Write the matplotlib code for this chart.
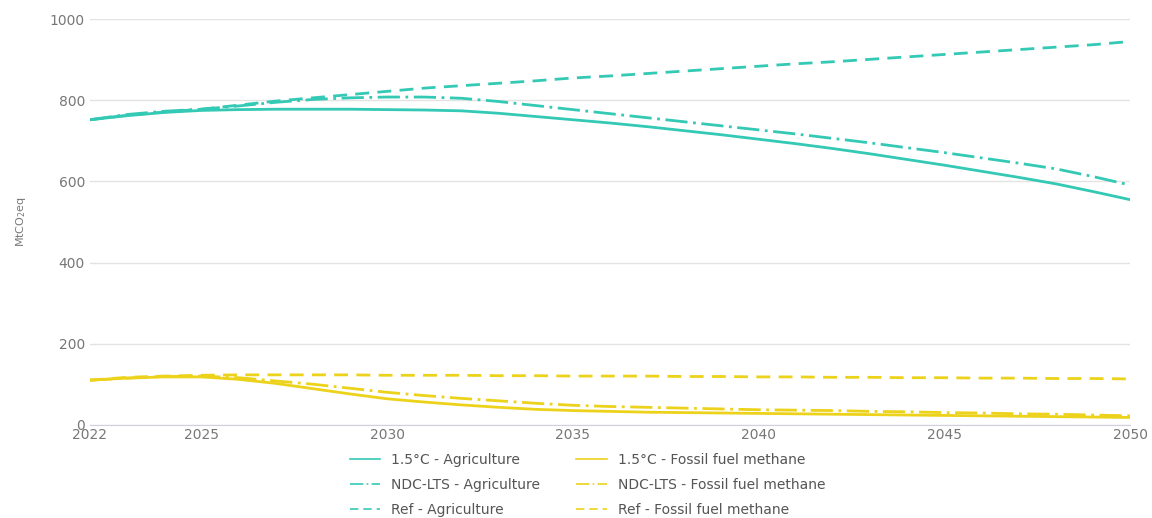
import matplotlib
matplotlib.use("Agg")
import matplotlib.pyplot as plt

years = list(range(2022, 2051))

agri_15 = [752, 762, 770, 775, 777, 778, 778, 778, 777, 776,
           774, 768, 760, 752, 744, 735, 725, 715, 704, 693,
           681, 668, 654, 640, 625, 610, 594, 575, 555]
agri_ndc = [752, 765, 773, 778, 786, 795, 802, 806, 808, 808,
            805, 797, 787, 777, 767, 757, 747, 737, 727, 717,
            706, 695, 683, 671, 658, 645, 631, 612, 591]
agri_ref = [752, 763, 771, 778, 788, 798, 806, 814, 822, 830,
            836, 842, 848, 855, 860, 866, 872, 878, 884, 890,
            895, 901, 907, 913, 919, 925, 931, 937, 945]

ff_15 = [110, 115, 118, 118, 112, 102, 89, 76, 64, 56,
         49, 43, 38, 35, 33, 31, 30, 29, 28, 27,
         26, 25, 24, 23, 22, 21, 20, 19, 18]
ff_ndc = [110, 115, 119, 120, 116, 108, 100, 90, 80, 72,
          65, 59, 53, 48, 45, 43, 41, 39, 37, 36,
          35, 33, 32, 30, 29, 27, 26, 24, 22]
ff_ref = [110, 117, 120, 122, 123, 123, 123, 123, 122, 122,
          122, 121, 121, 120, 120, 120, 119, 119, 118, 118,
          117, 117, 116, 116, 115, 115, 114, 114, 113]

xticks = [2022, 2025, 2030, 2035, 2040, 2045, 2050]
yticks = [0, 200, 400, 600, 800, 1000]

c_agri = "#33c9b5"
c_ff = "#ecd21a"
txt = "#777777"

fig = plt.figure(figsize=(11.52, 5.18), dpi=100)
ax = fig.add_axes([0.078, 0.18, 0.903, 0.783])

l1, = ax.plot(years, agri_15, color=c_agri, lw=2.0, ls="-", label="1.5°C - Agriculture")
l2, = ax.plot(years, agri_ndc, color=c_agri, lw=2.0, ls=(0, (8, 2, 1, 2)), label="NDC-LTS - Agriculture")
l3, = ax.plot(years, agri_ref, color=c_agri, lw=2.0, ls=(0, (5, 3)), label="Ref - Agriculture")
l4, = ax.plot(years, ff_15, color=c_ff, lw=2.0, ls="-", label="1.5°C - Fossil fuel methane")
l5, = ax.plot(years, ff_ndc, color=c_ff, lw=2.0, ls=(0, (8, 2, 1, 2)), label="NDC-LTS - Fossil fuel methane")
l6, = ax.plot(years, ff_ref, color=c_ff, lw=2.0, ls=(0, (5, 3)), label="Ref - Fossil fuel methane")

ax.set_xlim(2022, 2050)
ax.set_ylim(0, 1000)
ax.set_xticks(xticks)
ax.set_yticks(yticks)
ax.grid(axis="y", color="#e3e3e3", lw=1)
ax.set_axisbelow(True)
for s in ["top", "right", "left"]:
    ax.spines[s].set_visible(False)
ax.spines["bottom"].set_color("#d0d0e0")
ax.tick_params(axis="both", length=0, colors=txt, labelsize=10)
ax.tick_params(axis="x", pad=2)
ax.set_ylabel("MtCO$_2$eq", color=txt, fontsize=8, labelpad=16)

leg = fig.legend(handles=[l1, l2, l3, l4, l5, l6], loc="upper center",
                 bbox_to_anchor=(0.51, 0.15), ncol=2, frameon=False,
                 fontsize=10, labelcolor="#555555", handlelength=2.2,
                 columnspacing=2.6, labelspacing=0.8)
for h in leg.get_lines():
    h.set_linewidth(1.2)

fig.savefig("out.png", dpi=100)
